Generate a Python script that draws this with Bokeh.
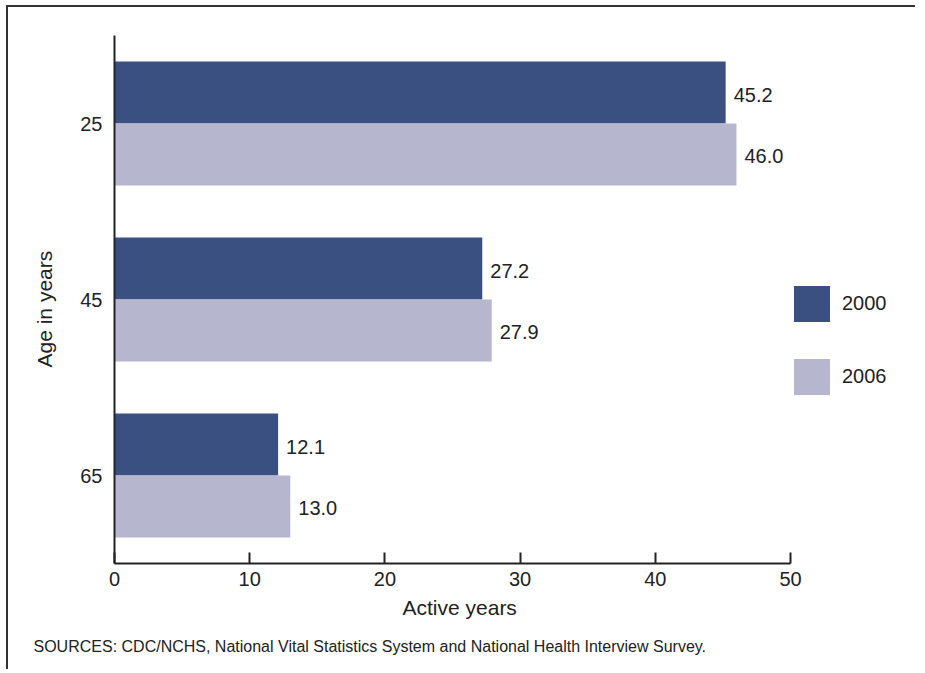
from bokeh.plotting import figure
from bokeh.models import FactorRange, Range1d, ColumnDataSource, FixedTicker, Title
from bokeh.transform import dodge
from bokeh.embed import file_html
from bokeh.resources import INLINE
from bokeh.core.properties import value

ages = ["25", "45", "65"]
years = ["2000", "2006"]
active_2000 = [45.2, 27.2, 12.1]
active_2006 = [46.0, 27.9, 13.0]
x_ticks = [0, 10, 20, 30, 40, 50]

FONT = "Liberation Sans"
TXT = "#222222"
C2000 = "#3a5080"
C2006 = "#b6b7cf"

src = ColumnDataSource(dict(
    age=ages,
    v2000=active_2000,
    v2006=active_2006,
    l2000=[f"{v:.1f}" for v in active_2000],
    l2006=[f"{v:.1f}" for v in active_2006],
))

W, H = 909, 664
p = figure(width=W, height=H, output_backend="svg", toolbar_location=None,
           y_range=FactorRange(factors=list(reversed(ages))),
           x_range=Range1d(0, 59.39),
           min_border_left=106, min_border_right=0, min_border_top=28, min_border_bottom=108)
p.styles = {"border-top": "2px solid #333333", "border-left": "2px solid #333333",
            "margin-left": "6px", "margin-top": "5px"}
p.outline_line_color = None
p.xgrid.visible = False
p.ygrid.visible = False
p.background_fill_color = "white"
p.border_fill_color = "white"

bh = 0.352
r1 = p.hbar(y=dodge("age", bh / 2, range=p.y_range), right="v2000", left=0, height=bh,
            source=src, fill_color=C2000, line_color=None, legend_label=years[0])
r2 = p.hbar(y=dodge("age", -bh / 2, range=p.y_range), right="v2006", left=0, height=bh,
            source=src, fill_color=C2006, line_color=None, legend_label=years[1])

for col, lab, off in (("v2000", "l2000", bh / 2), ("v2006", "l2006", -bh / 2)):
    p.text(x=col, y=dodge("age", off, range=p.y_range), text=lab, source=src,
           x_offset=8, y_offset=2, text_baseline="middle", text_align="left",
           text_font=value(FONT), text_font_size="20px", text_color=TXT)

# x axis (line and ticks stop at 50)
xa = p.xaxis[0]
xa.ticker = FixedTicker(ticks=x_ticks)
xa.bounds = (0, 50)
xa.axis_line_color = TXT
xa.axis_line_width = 2
xa.major_tick_line_color = TXT
xa.major_tick_line_width = 2
xa.major_tick_in = 11
xa.major_tick_out = 0
xa.minor_tick_line_color = None
xa.major_label_standoff = 8
xa.major_label_text_font = FONT
xa.major_label_text_font_size = "20px"
xa.major_label_text_color = TXT

# y axis
ya = p.yaxis[0]
ya.axis_line_color = TXT
ya.axis_line_width = 2
ya.major_tick_line_color = None
ya.major_tick_in = 0
ya.major_tick_out = 0
ya.minor_tick_line_color = None
ya.major_label_standoff = 12
ya.major_label_text_font = FONT
ya.major_label_text_font_size = "20px"
ya.major_label_text_color = TXT

# axis titles as side titles so they can be placed like the original
p.add_layout(Title(text="Age in years", align="left", offset=196, standoff=43,
                   text_font=FONT, text_font_size="21px", text_font_style="normal",
                   text_color=TXT), "left")
p.add_layout(Title(text="Active years", align="left", offset=288, standoff=10,
                   text_font=FONT, text_font_size="21px", text_font_style="normal",
                   text_color=TXT), "below")
p.add_layout(Title(text="SOURCES: CDC/NCHS, National Vital Statistics System and National Health Interview Survey.",
                   align="left", offset=-81, standoff=24,
                   text_font=FONT, text_font_size="16px", text_font_style="normal",
                   text_color=TXT), "below")

# legend
lg = p.legend[0]
lg.location = (675, 164)
lg.glyph_width = 45
lg.glyph_height = 45
lg.spacing = 28
lg.padding = 0
lg.margin = 0
lg.label_standoff = 8
lg.border_line_color = None
lg.background_fill_alpha = 0
lg.label_text_font = FONT
lg.label_text_font_size = "20px"
lg.label_text_color = TXT

open("out.html", "w").write(file_html(p, INLINE))
